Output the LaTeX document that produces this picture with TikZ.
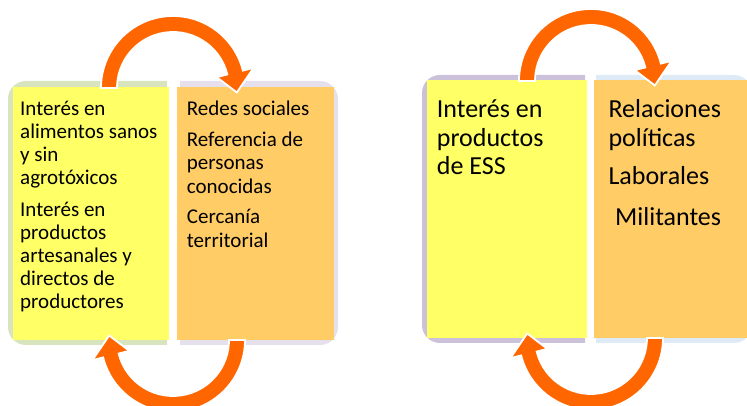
\documentclass[tikz,border=0pt]{standalone}
\usepackage{fontspec}
\setmainfont{Carlito}
\definecolor{boxY}{HTML}{FFFF66}
\definecolor{boxO}{HTML}{FFCC66}
\definecolor{arrO}{HTML}{FF6600}
\definecolor{bgG}{HTML}{D7E4BD}
\definecolor{bgL}{HTML}{E6E0EC}
\definecolor{bgP}{HTML}{CCC1DA}
\definecolor{bgB}{HTML}{DEEBF7}
\begin{document}
\begin{tikzpicture}[x=1pt,y=1pt,
  txtA/.style={anchor=base west,inner sep=0pt,font=\fontsize{21}{23}\selectfont},
  txtB/.style={anchor=base west,inner sep=0pt,font=\fontsize{26}{29}\selectfont},
  arrowshape/.style={fill=arrO,draw=white,line width=1.8pt,line join=miter},
  bgshape/.style={rounded corners=18pt}
]
\useasboundingbox (0,0) rectangle (747,406);
% ---------- left diagram backgrounds ----------
\begin{scope}
  \clip (0,0) rectangle (167,406);
  \fill[bgG,bgshape] (8,61) rectangle (200,325);
\end{scope}
\begin{scope}
  \clip (180,0) rectangle (747,406);
  \fill[bgL,bgshape] (150,61) rectangle (338,325);
\end{scope}
% boxes
\node[fill=boxY,inner sep=0pt,minimum width=156pt,minimum height=253pt,anchor=south west] (yA) at (13,66) {};
\node[fill=boxO,inner sep=0pt,minimum width=157pt,minimum height=253pt,anchor=south west] (oA) at (177,66) {};
% ---------- right diagram backgrounds ----------
\begin{scope}
  \clip (0,0) rectangle (585,406);
  \fill[bgP,bgshape] (422,63) rectangle (620,331);
\end{scope}
\begin{scope}
  \clip (596,0) rectangle (747,406);
  \fill[bgB,bgshape] (570,63) rectangle (752,331);
\end{scope}
\node[fill=boxY,inner sep=0pt,minimum width=160pt,minimum height=258pt,anchor=south west] (yB) at (427,68) {};
\node[fill=boxO,inner sep=0pt,minimum width=160pt,minimum height=258pt,anchor=south west] (oB) at (594,68) {};
% ---------- arrows ----------
\coordinate (c1) at (173,318);
\coordinate (c2) at (173,66);
\coordinate (c3) at (591,325);
\coordinate (c4) at (591,68);
\foreach \c in {c1,c3}{
\draw[arrowshape] ([shift={(180:72)}]\c) arc[start angle=180,end angle=14,radius=72]
  -- ([shift={(14:83)}]\c) -- ([shift={(-4:64)}]\c) -- ([shift={(14:45)}]\c)
  -- ([shift={(14:56)}]\c) arc[start angle=14,end angle=180,radius=56] -- cycle;
}
\foreach \c in {c2,c4}{
\draw[arrowshape] ([shift={(0:72)}]\c) arc[start angle=0,end angle=-166,radius=72]
  -- ([shift={(-166:83)}]\c) -- ([shift={(-184:64)}]\c) -- ([shift={(-166:45)}]\c)
  -- ([shift={(-166:56)}]\c) arc[start angle=-166,end angle=0,radius=56] -- cycle;
}
% ---------- texts left diagram ----------
\node[txtA] (l1) at (20,290) {Interés en};
\node[txtA] (l2) at (20,267.7) {alimentos sanos};
\node[txtA] (l3) at (20,244.3) {y sin};
\node[txtA] (l4) at (20,221) {agrotóxicos};
\node[txtA] (l5) at (20,189.3) {Interés en};
\node[txtA] (l6) at (20,166) {productos};
\node[txtA] (l7) at (20,143) {artesanales y};
\node[txtA] (l8) at (20,120) {directos de};
\node[txtA] (l9) at (20,97) {productores};
\node[txtA] (o1) at (186.7,290) {Redes sociales};
\node[txtA] (o2) at (186.7,259.3) {Referencia de};
\node[txtA] (o3) at (186.7,236) {personas};
\node[txtA] (o4) at (186.7,212.7) {conocidas};
\node[txtA] (o5) at (186.7,182) {Cercanía};
\node[txtA] (o6) at (186.7,158.7) {territorial};
% ---------- texts right diagram ----------
\node[txtB] (r1) at (436.7,288) {Interés en};
\node[txtB] (r2) at (436.7,259) {productos};
\node[txtB] (r3) at (436.7,231) {de ESS};
\node[txtB] (s1) at (608.3,288) {Relaciones};
\node[txtB] (s2) at (608.3,259) {políticas};
\node[txtB] (s3) at (608.3,221) {Laborales};
\node[txtB] (s4) at (615,180.3) {Militantes};
\end{tikzpicture}
\end{document}
